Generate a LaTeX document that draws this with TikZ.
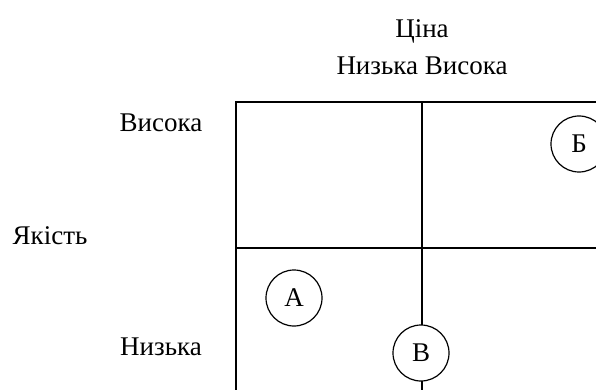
\documentclass[tikz,border=0pt]{standalone}
\usepackage{fontspec}
\setmainfont{Liberation Serif}
\begin{document}
\begin{tikzpicture}[x=1pt,y=-1pt,
  lbl/.style={font=\fontsize{27}{32}\selectfont, inner sep=0pt},
  firm/.style={circle, draw, fill=white, line width=1.2pt, minimum size=56pt, inner sep=0pt, font=\fontsize{27}{32}\selectfont},
  grid/.style={line width=1.4pt}]
\useasboundingbox (0,0) rectangle (596,390);
\clip (0,0) rectangle (596,390);
\coordinate (tl) at (236,102);
\coordinate (br) at (610,400);
\coordinate (vt) at (422,102);
\coordinate (vb) at (422,400);
\coordinate (hl) at (236,248);
\coordinate (hr) at (610,248);
\draw[grid] (tl) rectangle (br);
\draw[grid] (vt) -- (vb);
\draw[grid] (hl) -- (hr);
\node[lbl] (price) at (422,31) {Ціна};
\node[lbl] (pricelev) at (422,66) {Низька Висока};
\node[lbl] (qhigh) at (161,123) {Висока};
\node[lbl] (quality) at (50,236) {Якість};
\node[lbl] (qlow) at (161,347) {Низька};
\node[firm] (A) at (294,298) {А};
\node[firm] (B) at (579,144) {Б};
\node[firm] (V) at (421,353) {В};
\end{tikzpicture}
\end{document}
